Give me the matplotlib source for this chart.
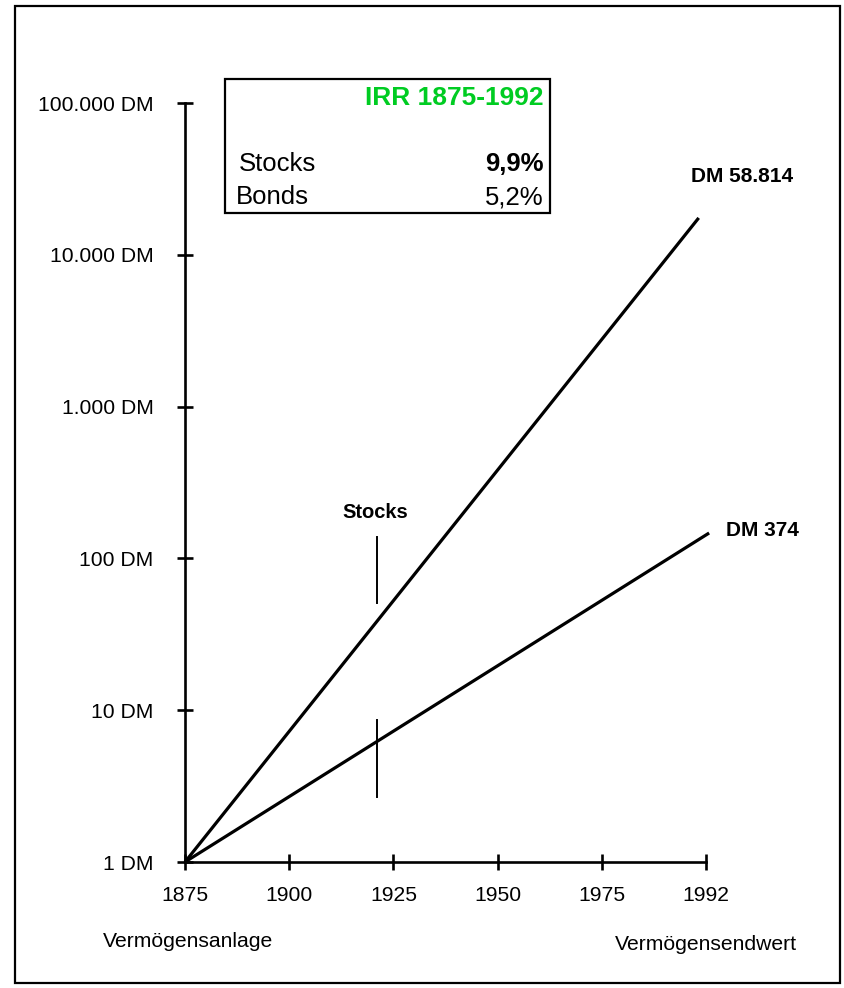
import matplotlib
matplotlib.use("Agg")
import matplotlib.pyplot as plt
from matplotlib.patches import Rectangle
from matplotlib.ticker import FixedLocator, FixedFormatter

plt.rcParams['font.family'] = ['Liberation Sans', 'DejaVu Sans']

# ---- data ----
x_tick_labels = ['1875', '1900', '1925', '1950', '1975', '1992']
y_tick_values = [1, 10, 100, 1000, 10000, 100000]
y_tick_labels = ['1 DM', '10 DM', '100 DM', '1.000 DM', '10.000 DM', '100.000 DM']

stocks_x = [0, 4.93]
stocks_y = [1, 17500]
bonds_x = [0, 5.03]
bonds_y = [1, 147]

stocks_end_label = 'DM 58.814'
bonds_end_label = 'DM 374'
irr_title = 'IRR 1875-1992'
irr_names = ['Stocks', 'Bonds']
irr_values = ['9,9%', '5,2%']

# marker ticks
stock_mark_x = [1.84, 1.84]
stock_mark_y = [51, 138]
bond_mark_x = [1.84, 1.84]
bond_mark_y = [2.68, 8.6]

W, H = 845, 988
fig = plt.figure(figsize=(W / 100, H / 100), dpi=100)
fig.patch.set_facecolor('white')

# outer frame
fig.add_artist(Rectangle((15 / W, 1 - 983 / H), (840 - 15) / W, (983 - 6) / H,
                         transform=fig.transFigure, fill=False, lw=1.6, ec='black'))

ax = fig.add_axes([185 / W, 1 - 862 / H, (706 - 185) / W, (862 - 103) / H])
ax.set_yscale('log')
ax.set_xlim(0, 5)
ax.set_ylim(1, 100000)
for s in ['top', 'right']:
    ax.spines[s].set_visible(False)
for s in ['left', 'bottom']:
    ax.spines[s].set_linewidth(1.9)

ax.yaxis.set_major_locator(FixedLocator(y_tick_values))
ax.yaxis.set_major_formatter(FixedFormatter(y_tick_labels))
ax.yaxis.set_minor_locator(FixedLocator([]))
ax.set_xticks(range(len(x_tick_labels)))
ax.set_xticklabels(x_tick_labels)
ax.tick_params(axis='both', direction='inout', length=11, width=1.9, labelsize=15.2)
ax.tick_params(axis='y', pad=17)
ax.tick_params(axis='x', pad=12)

ax.plot(stocks_x, stocks_y, color='black', lw=2.3, clip_on=False, solid_capstyle='butt')
ax.plot(bonds_x, bonds_y, color='black', lw=2.3, clip_on=False, solid_capstyle='butt')
ax.plot(stock_mark_x, stock_mark_y, color='black', lw=1.4)
ax.plot(bond_mark_x, bond_mark_y, color='black', lw=1.4)

ax.text(1.83, 202, 'Stocks', fontsize=14.5, fontweight='bold', ha='center', va='center')
ax.text(4.86, 33000, stocks_end_label, fontsize=15, fontweight='bold', ha='left', va='center', clip_on=False)
ax.text(5.19, 152, bonds_end_label, fontsize=15, fontweight='bold', ha='left', va='center', clip_on=False)

# IRR box
fig.add_artist(Rectangle((225 / W, 1 - 213 / H), (550 - 225) / W, (213 - 79) / H,
                         transform=fig.transFigure, fill=False, lw=1.6, ec='black'))
fig.text(544 / W, 1 - 98 / H, irr_title, color='#00cc22', fontsize=19, fontweight='bold',
         ha='right', va='center')
fig.text(239 / W, 1 - 164 / H, irr_names[0], fontsize=18.5, ha='left', va='center')
fig.text(544 / W, 1 - 164 / H, irr_values[0], fontsize=18.5, fontweight='bold', ha='right', va='center')
fig.text(236 / W, 1 - 197 / H, irr_names[1], fontsize=18.5, ha='left', va='center')
fig.text(544 / W, 1 - 197 / H, irr_values[1], fontsize=18.5, ha='right', va='center')

fig.text(188 / W, 1 - 941 / H, 'Vermögensanlage', fontsize=15.2, ha='center', va='center')
fig.text(706 / W, 1 - 945 / H, 'Vermögensendwert', fontsize=15.2, ha='center', va='center')

fig.savefig('out.png', dpi=100)
